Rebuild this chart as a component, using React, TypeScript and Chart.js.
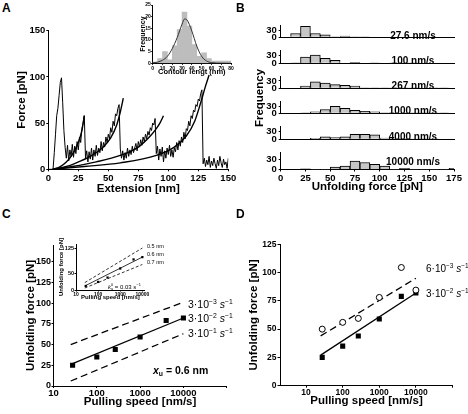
import React, { useEffect, useRef } from "react";
import { Chart, registerables } from "chart.js";

Chart.register(...registerables);

const FONT = "'Liberation Sans', Arial, Helvetica, sans-serif";
Chart.defaults.font.family = FONT;
Chart.defaults.color = "#000";

// ---------------- Panel A : force-extension trace ----------------
const traceForce = [
  0, 0, 0, 0, 1, 18, 38, 58, 66, 80, 94, 99, 72, 42, 24,
  12, 26, 9, 21, 14, 27, 13, 25, 17, 30, 21, 35, 29, 44, 50, 58,
  12, 20, 8, 19, 11, 23, 10, 21, 14, 26, 15, 23, 18, 30, 20, 29, 24, 35, 29, 38, 33, 45, 40, 52, 47, 60, 58, 66, 70,
  22, 12, 20, 10, 18, 12, 23, 14, 21, 16, 25, 18, 23, 28, 20, 30, 24, 32, 26, 35, 30, 38, 33, 41, 37, 45, 42, 50, 48, 55,
  17, 25, 10, 22, 14, 24, 8, 20, 12, 23, 16, 26, 14, 21, 13, 23, 19, 29, 21, 31, 25, 35, 29, 40, 33, 44, 42, 52, 47, 58,
  55, 64, 62, 70, 68, 76, 74, 82, 86,
  6, 12, 3, 10, 5, 14, 2, 9, 4, 12, 6, 1, 10, 4, 14, 7, 2, 11, 5, 8, 1, 12,
];
const traceExt = traceForce.map((_, i) => i); // sampled every 1 nm

const wlc1Ext = [4, 10, 15, 20, 25, 28, 30];
const wlc1Force = [0, 3, 8, 16, 29, 42, 58];
const wlc2Ext = [4, 15, 25, 35, 45, 52, 57, 60, 62.5];
const wlc2Force = [0, 3, 8, 14, 23, 34, 48, 62, 77];
const wlc3Ext = [4, 20, 40, 60, 75, 85, 90, 93, 96];
const wlc3Force = [0, 3, 8, 15, 24, 36, 44, 50, 58];
const wlc4Ext = [4, 30, 60, 90, 105, 115, 122, 127, 131, 134];
const wlc4Force = [0, 3, 7, 15, 24, 36, 52, 72, 90, 102];

// inset A : contour length histogram
const contourBins = [2.5, 7.5, 12.5, 17.5, 22.5, 27.5, 32.5, 37.5, 42.5, 47.5, 52.5, 57.5, 62.5, 67.5, 72.5, 77.5];
const contourFreq = [0.5, 2, 5, 1.5, 7.5, 14.5, 22, 16, 8, 3, 4.5, 2, 1, 1, 1, 1];
const gaussX = [0, 5, 10, 15, 20, 25, 30, 32.5, 35, 40, 45, 50, 55, 60, 70, 80];
const gaussY = [0.2, 0.5, 1.3, 3, 6.3, 11, 16.8, 19, 18.6, 13.8, 7.4, 3, 1, 0.3, 0.05, 0];

// ---------------- Panel B : unfolding force histograms ----------------
const forceBins = [5, 15, 25, 35, 45, 55, 65, 75, 85, 95, 105, 115, 125, 135, 145, 155, 165, 175];
const hist27 = [0, 16, 46, 16, 10, 1, 5, 1, 1, 0, 0, 0, 0, 0, 0, 0, 0, 0];
const hist100 = [0, 1, 25, 33, 20, 12, 2, 4, 2, 1, 0, 1, 1, 1, 0, 0, 0, 0];
const hist267 = [0, 0, 9, 27, 21, 15, 12, 9, 2, 2, 1, 1, 1, 1, 0, 1, 1, 0];
const hist1000 = [0, 0, 1, 6, 16, 29, 21, 13, 8, 6, 1, 2, 1, 1, 1, 1, 1, 0];
const hist4000 = [0, 0, 0, 4, 10, 7, 10, 20, 20, 18, 5, 1, 3, 2, 1, 1, 0, 0];
const hist10000 = [0, 0, 2, 1, 1, 7, 10, 24, 20, 15, 10, 1, 3, 1, 1, 1, 1, 3];
const speedLabels = ["27.6 nm/s", "100 nm/s", "267 nm/s", "1000 nm/s", "4000 nm/s", "10000 nm/s"];
const histList = [hist27, hist100, hist267, hist1000, hist4000, hist10000];

// ---------------- Panels C / D : force vs pulling speed ----------------
const speeds = [27.6, 100, 267, 1000, 4000, 10000];
const forceMean = [25, 35, 44, 59, 79, 82];
const forceOpen = [50, 56, 59.5, 78, 104.5, 84.5];
const fitSpeeds = [25, 10000];
const cFitSolid = [26, 82];
const cDashSlow = [50, 101];
const cDashFast = [6, 63];
const dFitSolid = [27, 82];
const dFitDash = [44, 95];
const logTicks = [10, 100, 1000, 10000, 100000];

// inset C
const insetForce = [12, 24, 37, 64, 91, 98];
const insetSolid = [12, 98];
const insetDash05 = [22, 125];
const insetDash07 = [6, 76];

// ---------------- helpers ----------------
const BLACK = "#000";
const pts = (xs: number[], ys: (number | null)[]) => xs.map((x, i) => ({ x, y: ys[i] }));

function axis(o: any) {
  return {
    type: o.type || "linear",
    min: o.min,
    max: o.max,
    offset: false,
    afterBuildTicks: o.ticks ? (s: any) => { s.ticks = o.ticks.map((v: number) => ({ value: v })); } : undefined,
    afterFit: (s: any) => { if (o.horizontal) s.height = o.size; else s.width = o.size; },
    ticks: {
      display: o.labels !== false,
      font: { size: o.tickSize, weight: "bold" },
      color: BLACK,
      padding: o.tickPad ?? 1,
      maxRotation: 0,
      minRotation: 0,
      autoSkip: false,
      callback: o.fmt || ((v: any) => String(v)),
    },
    grid: { display: true, offset: false, drawOnChartArea: false, drawTicks: o.tickLen !== 0, tickLength: o.tickLen ?? 3, color: BLACK, lineWidth: 1 },
    border: { display: true, color: BLACK, width: 1 },
    title: o.title
      ? { display: true, text: o.title, font: { size: o.titleSize, weight: "bold" }, color: BLACK, padding: 0 }
      : { display: false },
  };
}

function base(pad: any) {
  return {
    animation: false,
    responsive: false,
    maintainAspectRatio: false,
    events: [],
    plugins: { legend: { display: false }, tooltip: { enabled: false } },
    layout: { padding: pad },
  };
}

type Box = { left: number; top: number; width: number; height: number };

function ChartCanvas({ box, make }: { box: Box; make: () => any }) {
  const ref = useRef<HTMLCanvasElement | null>(null);
  useEffect(() => {
    if (!ref.current) return;
    const chart = new Chart(ref.current, make());
    return () => chart.destroy();
  }, []);
  return (
    <canvas
      ref={ref}
      width={box.width}
      height={box.height}
      style={{ position: "absolute", left: box.left, top: box.top, width: box.width, height: box.height }}
    />
  );
}

function Txt({ x, y, size, bold = true, anchor = "left", rotate = false, children }: any) {
  const tx = anchor === "center" ? "-50%" : anchor === "right" ? "-100%" : "0";
  return (
    <div
      style={{
        position: "absolute",
        left: x,
        top: y,
        transform: `translate(${tx}, -50%)${rotate ? " rotate(-90deg)" : ""}`,
        fontSize: size,
        fontWeight: bold ? "bold" : "normal",
        fontFamily: FONT,
        lineHeight: 1,
        whiteSpace: "nowrap",
        color: "#000",
      }}
    >
      {children}
    </div>
  );
}

const supStyle: any = { fontSize: "0.65em", position: "relative", top: "-0.55em" };
function Rate({ m, e }: { m: string; e: string }) {
  return (
    <span>
      {m}·10<span style={supStyle}>−{e}</span> <i>s</i><span style={supStyle}>−1</span>
    </span>
  );
}

// ---------------- chart configs ----------------
function makeA() {
  const curve = (xs: number[], ys: number[]) => ({
    data: pts(xs, ys), borderColor: BLACK, borderWidth: 1.4, pointRadius: 0, cubicInterpolationMode: "monotone", fill: false,
  });
  return {
    type: "line",
    data: {
      datasets: [
        { data: pts(traceExt, traceForce), borderColor: BLACK, borderWidth: 1, pointRadius: 0, tension: 0, fill: false },
        curve(wlc1Ext, wlc1Force),
        curve(wlc2Ext, wlc2Force),
        curve(wlc3Ext, wlc3Force),
        curve(wlc4Ext, wlc4Force),
      ],
    },
    options: {
      ...base({ left: 0, top: 10.7, right: 10.7, bottom: 0 }),
      scales: {
        x: axis({ min: 0, max: 150, ticks: [0, 25, 50, 75, 100, 125, 150], horizontal: true, size: 26.7, tickSize: 9.5, tickLen: 2, title: "Extension [nm]", titleSize: 11.5 }),
        y: axis({ min: 0, max: 150, ticks: [0, 50, 100, 150], size: 33.3, tickSize: 9.5, tickLen: 2, title: "Force [pN]", titleSize: 11.5 }),
      },
    },
  };
}

function makeAInset() {
  return {
    type: "bar",
    data: {
      datasets: [
        {
          type: "line",
          data: pts(gaussX, gaussY),
          borderColor: "#333",
          borderWidth: 1,
          pointRadius: 0,
          cubicInterpolationMode: "monotone",
          order: 0,
        },
        {
          data: pts(contourBins, contourFreq),
          backgroundColor: "#bdbdbd",
          borderWidth: 0,
          barPercentage: 1,
          categoryPercentage: 1,
          order: 1,
        },
      ],
    },
    options: {
      ...base({ left: 0, top: 4, right: 5, bottom: 0 }),
      scales: {
        x: axis({ min: 0, max: 80, ticks: [0, 10, 20, 30, 40, 50, 60, 70, 80], horizontal: true, size: 12.7, tickSize: 5, tickLen: 1.5, tickPad: 0.5, title: "Contour lengt (nm)", titleSize: 7.5 }),
        y: axis({ min: 0, max: 25, ticks: [0, 5, 10, 15, 20, 25], size: 13.7, tickSize: 5, tickLen: 1.5, tickPad: 0.5, title: "Frequency", titleSize: 7 }),
      },
    },
  };
}

function makeB(i: number, padTop: number, xSize: number) {
  const last = i === 5;
  return {
    type: "bar",
    data: {
      datasets: [
        {
          data: pts(forceBins, histList[i].map((v) => (v > 0 ? v : null))),
          backgroundColor: "#c6c6c6",
          borderColor: BLACK,
          borderWidth: 1,
          barPercentage: 1,
          categoryPercentage: 1,
        },
      ],
    },
    options: {
      ...base({ left: 0, top: padTop, right: 14, bottom: 0 }),
      scales: {
        x: axis({
          min: 0, max: 175, ticks: [0, 25, 50, 75, 100, 125, 150, 175], horizontal: true, size: xSize,
          tickSize: 9.5, tickLen: last ? 2 : 0, labels: last, title: last ? "Unfolding force [pN]" : undefined, titleSize: 11.5,
        }),
        y: axis({ min: 0, max: 50, ticks: [0, 30], size: 46.7, tickSize: 9.5, tickLen: 2, tickPad: 2 }),
      },
    },
  };
}

const logFmt = (v: any) => (Number(v) >= 100000 ? "" : String(v));

function makeC() {
  return {
    type: "line",
    data: {
      datasets: [
        { data: pts(speeds, forceMean), showLine: false, pointStyle: "rect", pointRadius: 3.6, backgroundColor: BLACK, borderColor: BLACK, borderWidth: 0 },
        { data: pts(fitSpeeds, cFitSolid), borderColor: BLACK, borderWidth: 1.3, pointRadius: 0 },
        { data: pts(fitSpeeds, cDashSlow), borderColor: BLACK, borderWidth: 1.3, borderDash: [7, 4], pointRadius: 0 },
        { data: pts(fitSpeeds, cDashFast), borderColor: BLACK, borderWidth: 1.3, borderDash: [7, 4], pointRadius: 0 },
      ],
    },
    options: {
      ...base({ left: 0, top: 10, right: 9.3, bottom: 0 }),
      scales: {
        x: axis({ type: "logarithmic", min: 10, max: 100000, ticks: logTicks, fmt: logFmt, horizontal: true, size: 23, tickSize: 9.5, tickLen: 2, tickPad: 0, title: "Pulling speed [nm/s]", titleSize: 11.5 }),
        y: axis({ min: 0, max: 170, ticks: [0, 25, 50, 75, 100, 125, 150], size: 29.5, tickSize: 9, tickLen: 2, tickPad: 0.5, title: "Unfolding force [pN]", titleSize: 11.5 }),
      },
    },
  };
}

function makeCInset() {
  return {
    type: "line",
    data: {
      datasets: [
        { data: pts(speeds, insetForce), showLine: false, pointStyle: "rect", pointRadius: 1.6, backgroundColor: BLACK, borderColor: BLACK, borderWidth: 0 },
        { data: pts(fitSpeeds, insetSolid), borderColor: BLACK, borderWidth: 0.8, pointRadius: 0 },
        { data: pts(fitSpeeds, insetDash05), borderColor: BLACK, borderWidth: 0.8, borderDash: [3, 2], pointRadius: 0 },
        { data: pts(fitSpeeds, insetDash07), borderColor: BLACK, borderWidth: 0.8, borderDash: [3, 2], pointRadius: 0 },
      ],
    },
    options: {
      ...base({ left: 0, top: 6, right: 5, bottom: 0 }),
      scales: {
        x: axis({ type: "logarithmic", min: 10, max: 13000, ticks: [10, 100, 1000, 10000], fmt: logFmt, horizontal: true, size: 11, tickSize: 5, tickLen: 1.5, tickPad: 0.5, title: "Pulling speed [nm/s]", titleSize: 6 }),
        y: axis({ min: 0, max: 137, ticks: [0, 50, 125], size: 18, tickSize: 5.5, tickLen: 1.5, tickPad: 0.5, title: "Unfolding force [pN]", titleSize: 6 }),
      },
    },
  };
}

function makeD() {
  return {
    type: "line",
    data: {
      datasets: [
        { data: pts(speeds, forceOpen), showLine: false, pointStyle: "circle", pointRadius: 3, backgroundColor: "#fff", borderColor: BLACK, borderWidth: 1 },
        { data: pts(speeds, forceMean), showLine: false, pointStyle: "rect", pointRadius: 3.6, backgroundColor: BLACK, borderColor: BLACK, borderWidth: 0 },
        { data: pts(fitSpeeds, dFitSolid), borderColor: BLACK, borderWidth: 1.3, pointRadius: 0 },
        { data: pts(fitSpeeds, dFitDash), borderColor: BLACK, borderWidth: 1.3, borderDash: [7, 4], pointRadius: 0 },
      ],
    },
    options: {
      ...base({ left: 0, top: 10.3, right: 9.5, bottom: 0 }),
      scales: {
        x: axis({ type: "logarithmic", min: 2, max: 100000, ticks: logTicks, fmt: logFmt, horizontal: true, size: 22.3, tickSize: 8.5, tickLen: 2, tickPad: 0, title: "Pulling speed [nm/s]", titleSize: 11.5 }),
        y: axis({ min: 0, max: 125, ticks: [0, 25, 50, 75, 100, 125], size: 33.5, tickSize: 8.5, tickLen: 3, title: "Unfolding force [pN]", titleSize: 11.5 }),
      },
    },
  };
}

// B layout: baselines of the six stacked histograms
const bBase = [43, 68.3, 93.6, 118.9, 144.2, 169.5];

export default function App() {
  return (
    <div style={{ position: "absolute", left: 0, top: 0, width: 468, height: 414, background: "#fff", overflow: "hidden", fontFamily: FONT }}>
      {/* Panel A */}
      <ChartCanvas box={{ left: 15, top: 20, width: 224, height: 176 }} make={makeA} />
      <ChartCanvas box={{ left: 139, top: 1, width: 97, height: 75 }} make={makeAInset} />

      {/* Panel B */}
      {bBase.map((b, i) => {
        const plotTop = b - 17.5;
        const top = Math.floor(plotTop - 8);
        const bottom = i === 5 ? 194 : Math.ceil(b + 2);
        return (
          <ChartCanvas
            key={i}
            box={{ left: 234, top, width: 234, height: bottom - top }}
            make={() => makeB(i, plotTop - top, bottom - b)}
          />
        );
      })}
      {speedLabels.map((s, i) => (
        <Txt key={s} x={413} y={bBase[i] - 7.5} size={10} anchor="center">{s}</Txt>
      ))}
      <Txt x={260} y={98} size={11.5} anchor="center" rotate>Frequency</Txt>

      {/* Panel C */}
      <ChartCanvas box={{ left: 24, top: 235, width: 212, height: 174 }} make={makeC} />
      <ChartCanvas box={{ left: 58, top: 238, width: 92, height: 63 }} make={makeCInset} />
      <Txt x={188} y={304} size={10.5} bold={false}><Rate m="3" e="3" /></Txt>
      <Txt x={188} y={318} size={10.5} bold={false}><Rate m="3" e="2" /></Txt>
      <Txt x={188} y={333} size={10.5} bold={false}><Rate m="3" e="1" /></Txt>
      <Txt x={153} y={370} size={10.5}>
        <i>x</i><span style={{ fontSize: "0.65em", position: "relative", top: "0.3em" }}>u</span> = 0.6 nm
      </Txt>
      <Txt x={147} y={247} size={5.5} bold={false}>0.5 nm</Txt>
      <Txt x={147} y={254.5} size={5.5} bold={false}>0.6 nm</Txt>
      <Txt x={147} y={262.5} size={5.5} bold={false}>0.7 nm</Txt>
      <Txt x={108} y={287} size={6} bold={false}>
        <i>k</i>
        <span style={{ display: "inline-flex", flexDirection: "column", fontSize: "0.65em", lineHeight: 0.9, verticalAlign: "middle" }}>
          <span>0</span>
          <span>u</span>
        </span>
        {" "}= 0.03 <i>s</i><span style={supStyle}>−1</span>
      </Txt>

      {/* Panel D */}
      <ChartCanvas box={{ left: 247, top: 234, width: 215, height: 174 }} make={makeD} />
      <Txt x={426} y={269} size={10} bold={false}><Rate m="6" e="3" /></Txt>
      <Txt x={426} y={294} size={10} bold={false}><Rate m="3" e="2" /></Txt>

      {/* panel letters */}
      <Txt x={2} y={7.5} size={12}>A</Txt>
      <Txt x={236} y={7.5} size={12}>B</Txt>
      <Txt x={2} y={214} size={12}>C</Txt>
      <Txt x={236} y={214} size={12}>D</Txt>
    </div>
  );
}
